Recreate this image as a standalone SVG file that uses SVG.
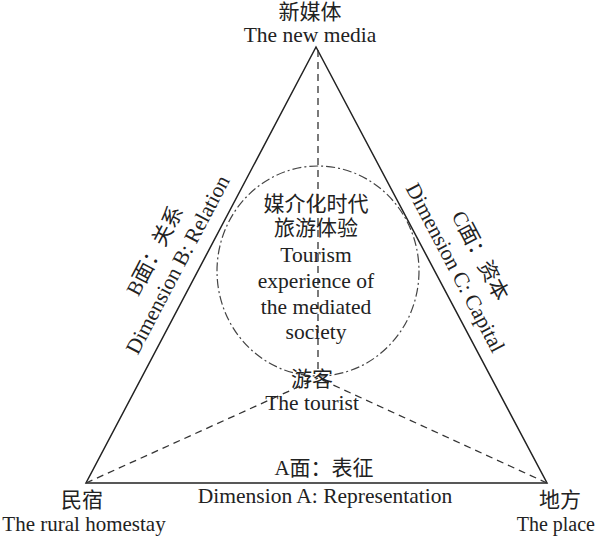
<svg xmlns="http://www.w3.org/2000/svg" width="596" height="536" viewBox="0 0 596 536">
<style>
text{font-family:"Liberation Serif","Noto Sans CJK SC",serif;fill:#222;text-anchor:middle}
.en{font-size:21.5px}
.zh{font-size:21px}
.solid{fill:none;stroke:#222;stroke-width:1.5}
.dash{fill:none;stroke:#333;stroke-width:1.3;stroke-dasharray:7 5}
.dashdot{fill:none;stroke:#444;stroke-width:1.2;stroke-dasharray:9 3 2 3}
</style>
<rect width="596" height="536" fill="#fff"/>
<g id="connectors">
<polygon class="solid" points="316,47 86,483 547,483"/>
<line class="dash" x1="318" y1="50" x2="318" y2="372"/>
<line class="dash" x1="86" y1="483" x2="318" y2="378"/>
<line class="dash" x1="547" y1="483" x2="318" y2="378"/>
</g>
<g id="circle">
<ellipse class="dashdot" cx="318" cy="271" rx="101" ry="105"/>
</g>
<g id="node-media">
<text class="zh" x="310" y="19">新媒体</text>
<text class="en" x="310" y="42">The new media</text>
</g>
<g id="node-center">
<text class="zh" x="316" y="211">媒介化时代</text>
<text class="zh" x="316" y="235">旅游体验</text>
<text class="en" x="316" y="262">Tourism</text>
<text class="en" x="316" y="288">experience of</text>
<text class="en" x="316" y="314">the mediated</text>
<text class="en" x="316" y="339">society</text>
</g>
<g id="node-tourist">
<text class="zh" x="312" y="386">游客</text>
<text class="en" x="312" y="410">The tourist</text>
</g>
<g id="node-homestay">
<text class="zh" x="82" y="507">民宿</text>
<text class="en" x="84" y="531" style="font-size:21px">The rural homestay</text>
</g>
<g id="node-place">
<text class="zh" x="560" y="507">地方</text>
<text class="en" x="595" y="531" style="text-anchor:end;font-size:20px">The place</text>
</g>
<g id="label-a">
<text class="zh" x="324" y="475">A面：表征</text>
<text class="en" x="325" y="503">Dimension A: Representation</text>
</g>
<g id="label-b">
<text class="zh" transform="translate(161,254) rotate(-62.2)">B面：关系</text>
<text class="en" transform="translate(184,268) rotate(-62.2)">Dimension B: Relation</text>
</g>
<g id="label-c">
<text class="zh" transform="translate(474,259) rotate(62.2)">C面：资本</text>
<text class="en" transform="translate(449,271) rotate(62.2)">Dimension C: Capital</text>
</g>
</svg>
